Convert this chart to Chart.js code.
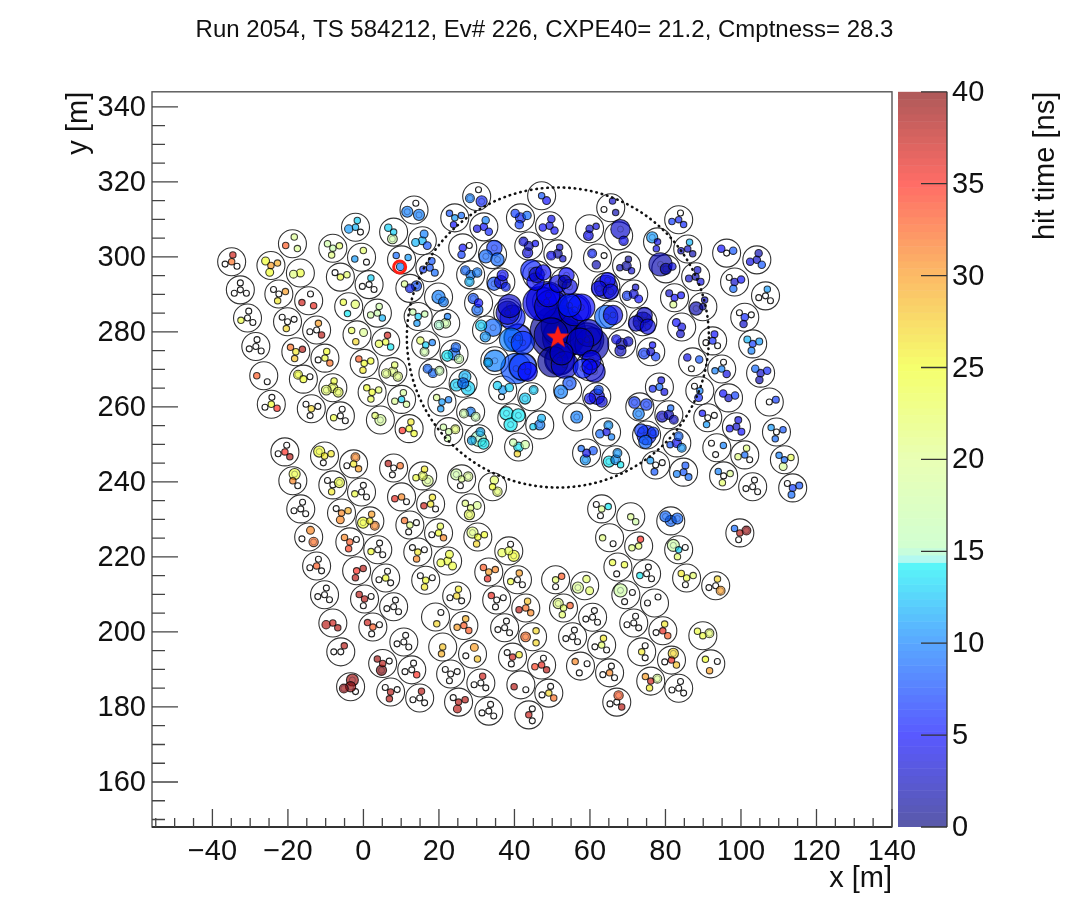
<!DOCTYPE html>
<html>
<head>
<meta charset="utf-8">
<title>Run 2054</title>
<script src="https://cdn.jsdelivr.net/npm/chart.js@4"></script>
<style>
body { margin: 0; background: #fff; }
</style>
</head>
<body>
<canvas id="myChart" width="1089" height="920"></canvas>
<script>
"use strict"
const n = null; // pmt is there but saw no light
const A = -1;   // no pmt drawn for this slot

const chartTitle = 'Run 2054, TS 584212, Ev# 226, CXPE40= 21.2, Cmptness= 28.3';
const xTicks = [-40, -20, 0, 20, 40, 60, 80, 100, 120, 140];
const yTicks = [160, 180, 200, 220, 240, 260, 280, 300, 320, 340];
const timeTicks = [0, 5, 10, 15, 20, 25, 30, 35, 40];

const coreX = [51.5];
const coreY = [278.5];
const fiducialRadius = 40;
const seedX = [9.6];
const seedY = [297.3];

const tankX = [-34.9,-32.6,-30.7,-28.5,-26.4,-24.4,-18.8,-24.5,-16.7,-22.4,
-14.5,-20.1,-12.4,-17.9,-10.2,-15.9,-8.1,-13.8,-6.1,-2.1,
-8.1,-0.5,-6.1,1.5,-3.9,3.7,-1.7,5.9,0.2,7.8,
2.3,10.1,4.5,12.1,8,13.4,15.6,10.1,17.6,12.3,
19.9,14.5,21.8,16.5,24,18.4,26.4,20.8,28.4,22.6,
30.5,30,24.2,31.9,26.3,34.2,28.4,36.4,30.5,32.6,
34.8,36.9,44.6,39.3,46.7,41.1,56.5,54.1,61.8,64.4,
59.1,66.8,47.2,41.6,49.3,59.9,65.5,67.6,43.8,51.5,
62,69.7,77.9,83.5,85.9,96.2,104.2,80.1,88,98.3,
106.5,64.2,71.6,82.4,89.9,101,66.1,74,84.3,92.5,
103.1,68.4,76.1,87.2,94.9,105.2,89.1,96.7,107.5,78.4,
73.2,80.9,91.2,98.8,109.4,75,83,93.6,101,77.4,
84.8,95.4,111.5,103.1,113.7,45.9,53.3,38.2,40.9,42.2,
48.5,56,51.5,52,59.2,59.9,
-20.8,-18.7,-16.6,-14.5,-12.4,-10.3,-8.1,-6,-3.4,-10.3,
-8.1,-5.8,-3.6,-1.8,0.3,2.5,5.1,7.2,-2.6,-0.5,
1.7,3.8,5.9,8,10.7,12.8,14.9,8,10.1,12.3,
14.4,16.5,19.1,21,23.1,25.2,15.7,17.8,19.9,22.3,
24.7,26.6,28.9,31.1,33.2,26,28.4,30.3,34.2,38.5,
33.2,40.8,35.3,43,37.4,44.8,39.5,47.2,41.7,49.1,
43.8,50.9,58.6,53,60.7,55.4,63.1,57.5,65.2,67.1,
63.1,70.8,65.2,72.9,81.4,83.5,99.7,67.4,75,85.6,
93.3,69.5,77.1,71.6,79.3,89.9,73.7,81.6,92,76.1,83.5];

const tankY = [298.7,291.2,283.7,276.1,268.3,260.7,303.5,297.7,295.7,290.1,
288.3,282.7,280.5,274.7,273,267.4,265.1,259.5,257.6,307.9,
302.3,299.9,294.6,292.6,286.7,285,279.2,277.3,271.6,269.4,
263.9,262,256.5,254.2,306.6,312.5,304.3,299.2,297.1,291.6,
289.3,284.1,282.3,276.5,274.1,269,266.3,261.3,258.7,253.4,
251.5,316.1,310.4,308,302.4,300.6,295.2,293.3,287.7,280.5,
272.3,264.5,262.7,257.1,255.2,249.3,257.3,264.5,262.7,253.3,
247.7,245.9,316.3,310.4,308.3,307.5,313.1,305.6,302.9,300.8,
299.7,297.6,304,309.9,302.1,301,299.2,296.8,294.7,293.3,
289.6,292,290.1,289.1,286.7,283.9,284.5,282.7,281.3,277.6,
276.8,276.8,274.7,272,270.1,269,264.3,262.4,261.3,265.3,
260,257.9,257.1,254.7,253.3,252.5,250.4,249.1,247.2,244.5,
242.6,241.6,245.9,238.7,238.4,295.2,293.3,285.1,278.4,270.7,
288,285.9,279.7,272.5,277.9,270.7,
248,240.3,232.8,225.3,217.6,209.9,202.4,194.7,185.4,246.9,
239.2,231.7,224,216.3,208.8,201.3,191.6,184,244.8,237.3,
229.6,221.9,214.4,206.7,197.3,189.9,182.4,243.7,236,228.5,
221.3,213.8,204,196,188.8,181.3,241.6,234.1,226.4,218.9,
209.6,201.7,194.1,186.4,178.9,240.8,233.1,225.3,238.7,221.6,
216,213.9,208.5,206.4,201.1,198.7,193.3,191.2,185.9,183.7,
177.9,213.9,212.3,206.4,203.9,198.7,196.5,190.9,189.1,181.3,
232.8,230.7,225.1,222.9,229.6,221.9,226.4,217.3,215.5,214.4,
212.3,209.9,207.7,202.4,200.3,199,194.7,192.5,191.5,186.9,185];

// direction of the first outer pmt in each tank, degrees
const tankRot = [80,90,80,80,60,85,75,140,70,140,
75,140,75,140,75,140,80,140,75,75,
140,75,140,75,140,75,140,75,140,75,
140,75,140,75,140,75,75,140,75,140,
75,140,75,140,75,140,75,140,75,140,
75,75,140,75,140,75,140,75,140,140,
75,140,75,140,75,140,75,75,75,75,
140,75,75,140,75,140,75,75,140,75,
140,75,140,75,75,140,75,140,75,140,
75,75,75,140,75,140,75,75,140,75,
140,140,75,140,75,140,140,140,140,75,
140,75,140,75,140,140,75,140,75,140,
75,140,140,75,140,140,75,75,75,75,
75,140,75,75,75,75,
75,75,75,75,75,75,75,60,75,140,
140,140,140,140,140,140,140,140,75,75,
75,75,75,75,75,75,75,140,75,140,
140,140,40,140,140,140,75,75,75,75,
75,75,75,75,75,140,140,140,75,75,
140,75,140,75,75,60,140,75,75,75,
60,30,75,140,75,75,75,140,75,75,
140,75,60,75,140,140,140,140,75,140,
75,140,60,75,75,140,60,75,140,140,75];

// hit time in ns for [centre, first, second, third] pmt of each tank
const pmtTime = [
[32,37,n,n],[n,n,n,n],[n,n,24,n],[n,n,n,n],[A,A,33,n],[25,n,n,35],[A,20,33,20],[30,25,25,29],[24,A,21,A],[n,n,26,30],
[A,n,37,36],[n,n,27,n],[n,30,n,38],[26,32,28,38],[24,25,n,32],[25,25,A,n],[23,24,22,23],[27,n,n,n],[n,n,24,n],[12,13,11,n],
[17,18,21,22],[A,22,11,n],[24,n,A,22],[n,13,n,n],[A,24,14,22],[17,18,18,12],[A,23,27,20],[24,37,23,14],[25,33,26,25],[21,22,21,21],
[25,25,23,22],[13,19,20,19],[19,22,A,A],[25,26,35,25],[13,13,18,A],[A,n,10,10],[12,10,12,8],[A,9,10,11],[8,8,7,9],[6,20,A,8],
[10,A,A,10],[13,17,11,17],[18,10,15,A],[13,22,18,10],[9,9,14,17],[9,9,A,17],[9,12,13,13],[11,20,11,10],[10,A,18,17],[18,18,18,22],
[15,12,12,14],[A,n,10,6],[11,8,5,9],[5,10,4,6],[5,A,7,n],[A,7,9,9],[10,9,12,10],[4,5,8,6],[5,8,9,A],[A,13,11,9],
[10,A,12,A],[11,13,n,13],[A,13,13,A],[A,14,14,14],[10,12,13,A],[14,17,27,18],[10,A,A,A],[A,8,10,A],[5,8,5,4],[4,11,9,10],
[4,9,11,8],[11,11,14,14],[8,A,A,5],[6,7,7,9],[4,4,5,5],[3,A,5,4],[A,3,n,2],[A,3,A,5],[3,4,4,5],[2,3,5,3],
[A,6,2,n],[2,1,2,3],[4,11,4,A],[6,n,7,6],[3,12,3,2],[n,5,A,8],[3,2,4,8],[2,2,A,4],[2,3,3,4],[3,n,9,5],
[n,11,n,n],[3,5,4,4],[4,3,7,5],[5,3,20,5],[1,3,2,A],[6,n,3,n],[4,A,9,A],[2,3,3,4],[4,5,3,A],[6,5,n,n],
[7,12,10,11],[2,5,3,4],[3,5,7,7],[A,4,n,8],[10,n,10,4],[3,9,2,6],[10,n,6,A],[3,5,A,7],[n,A,A,7],[9,4,6,4],
[A,7,10,7],[3,9,3,3],[n,5,11,n],[3,4,5,5],[n,11,9,8],[6,7,9,7],[5,9,8,11],[A,n,n,10],[9,21,21,n],[n,11,8,n],
[8,8,10,9],[n,10,22,20],[9,10,19,23],[n,n,n,n],[7,n,9,8],[3,6,5,5],[2,5,4,4],[3,3,A,6],[6,A,10,7],[7,A,8,5],
[3,5,4,3],[3,6,A,5],[1,2,2,2],[2,3,1,3],[1,3,3,2],[5,4,6,3],
[35,n,n,38],[31,24,A,n],[n,n,n,n],[A,31,n,32],[33,n,n,n],[n,n,n,n],[37,A,38,38],[n,38,n,A],[39,39,39,n],[26,25,n,26],
[n,n,26,24],[31,n,31,29],[33,31,34,n],[35,A,38,38],[38,38,n,n],[33,37,n,n],[38,39,40,n],[38,n,38,n],[26,31,n,30],[n,n,24,n],
[26,30,25,31],[n,n,25,n],[25,n,n,n],[n,n,n,n],[n,n,n,n],[n,n,n,35],[n,38,n,n],[n,38,n,32],[31,A,36,n],[21,32,n,n],
[26,n,31,n],[25,n,26,n],[A,n,A,27],[28,A,29,A],[n,n,n,n],[38,n,38,38],[23,26,24,20],[26,26,37,n],[25,23,n,31],[24,24,24,24],
[27,26,n,n],[33,29,30,33],[A,30,n,28],[n,37,n,n],[n,n,n,n],[20,18,n,20],[21,21,23,20],[25,21,27,25],[25,22,A,22],[23,n,23,25],
[30,33,36,31],[n,30,24,n],[n,36,n,n],[32,28,38,31],[n,n,n,n],[A,27,32,27],[37,n,n,26],[36,n,34,38],[A,A,38,n],[27,n,n,32],
[37,n,A,n],[22,33,A,n],[A,22,20,22],[22,21,22,33],[n,n,n,n],[n,n,n,n],[22,26,n,n],[A,31,n,n],[31,n,n,n],[n,33,n,38],
[20,n,n,14],[20,A,A,18],[A,A,21,n],[22,35,21,A],[9,9,A,9],[13,18,22,n],[38,9,n,39],[A,24,n,24],[n,n,14,n],[24,26,n,22],
[n,27,n,30],[A,18,n,n],[A,n,n,A],[n,n,n,n],[36,26,n,33],[24,24,A,22],[26,n,A,n],[36,27,n,28],[A,25,30,n],[37,30,26,20],[n,n,n,n]];

// relative charge: one number for the whole tank or one per pmt
const pmtCharge = [
1,1,1,1,1,1,1,[1,1.3,1.3,1],1.3,1,
1,1,1,1,1,[1.1,1.5,1,1],[1.7,1,1.7,1.7],1,1,[1,1,1.4,1],
1,1,1,1,[1,1,1,1.4],1,[1,1,1,1.3],[1,1,1.2,1],1,[1.6,1,1.6,1.6],
1,1,[2,1,1,1],1,[1,1.2,1.7,1],2,1.3,[1,1,1.3,1],1.1,[1.5,1,1,1.8],
[2.5,1,1,1.7],1,[1.7,1,1.6,1],[1,1.2,1.5,1],[2.2,1.6,2,1.6],1.5,[2,2.2,2.2,2.6],1,[1.6,1,1.5,1.5],[1,1,1,1.5],
[3,1.5,1.5,2],[1,1,1.5,2],1,1.2,1.2,[1,3,2.5,2.5],1.6,[2.4,2,2.5,1.5],[1.4,1.8,2,1],[1,2,1.8,3.5],
[4.5,1,1.5,1],1.4,[1,1.5,2,1],2.5,[1.8,1.3,1,1],[1.7,1.2,1,1.4],2.2,2.5,[3,1.6,2,2],[1.2,1.5,1.4,1],
[1.3,1,1.8,1.4],[1.7,1.5,2,1],[1,1,1,1.3],[1.8,1.4,1.4,1.4],1.2,[1.2,1,1.7,1],1,[1,4,1,1.6],[1.5,1.5,1.8,1],[1.5,1,1.5,1],
[1,1.5,1.4,1],[1.6,1,1,1],[1,2,1,1],1,1,1.2,1.2,[2,5,1,1.2],1.1,1.2,
1,[5,3,3,3],[1.5,1,1.6,1.3],1.1,[1,1,2.5,1],1.2,[4,1,5,1],[4,3,3,3],1.3,1.1,
1.1,[2,1.6,2,1.6],[1.3,1,2,1.4],1.2,[1,1,1,1.2],1.2,[1,1,1.3,1],1.2,1.1,1.1,
2.1,[1.6,1,2,1.5],1,1.1,1,[4,2.5,2.5,2],[1.6,1.5,1,1.5],1,1,1.1,
1.1,1,[1,1,1.3,1],1,1.1,[3,4.5,3.5,3],[2.5,3,3.5,3],[5,5,1,5.5],[6,1,5,5],[6,1,7,4],
[10,5,8,8],[7.5,5,1,6],[15,9,8,10],[7,5,7,6],[8,6,6,8],[3,4,4,4.5],
1,[1,2,1,1],1,[1,1.3,1,1.6],1,1,[1,1,1.4,1],1,[1.8,2.2,1.5,1],[1,2,1,1],
[1,1,1,1.8],[1,1,1.3,1],1,1,1,1,[1,1,1.8,1],1,[1,1.5,1,1],1,
[1,1,2,1.5],1,1,1,1,1,1,1,1,1,
1,1,1,1,1,[1,1,1.3,1],[1.5,1,1,2],1,1,1.3,
1,1,[1,1.3,1,1],1,1,[1,2,1,1.6],[1,1,1.8,1.3],[1,2,1,1],[1,1.4,1,1.6],[1.3,1,1.4,2],
1,1,1,1,1,[1,1,1.7,1],1,1,1,1,
1,1,[1,1.2,2,1.3],[1,1.8,1,1],1,1,1,1,1,[1,1.6,1,1],
1,1,1,1,2,[1,2.2,1,1],[1,1,1,1.5],1,1,1,
[1,1,1,1.5],[1,2.5,1,1],1,1,1,[1,1,1,1.5],1,[1,1.8,1,1],1,[1,1,1,1.5],1];

// palette of the time axis
const paletteTime = [0, 5, 10, 14.4, 14.5, 15.2, 20, 25, 30, 35, 40];
const paletteR = [0, 0, 0, 0, 130, 185, 220, 240, 250, 255, 130];
const paletteG = [0, 0, 120, 245, 245, 255, 255, 255, 150, 30, 0];
const paletteB = [120, 255, 255, 245, 240, 185, 140, 30, 20, 20, 0];

const PMT_OFFSET = 1.85; // m from tank centre
const BLEND = 0.65;

function paletteRgb(t) {
    let k = 0;
    while (k < paletteTime.length - 2 && t > paletteTime[k + 1]) k++;
    let f = (t - paletteTime[k]) / (paletteTime[k + 1] - paletteTime[k]);
    f = Math.max(0, Math.min(1, f));
    return [paletteR, paletteG, paletteB].map(c => Math.round(c[k] + (c[k + 1] - c[k]) * f));
}
function hitColor(t) {
    let c = paletteRgb(t);
    return `rgba(${c[0]},${c[1]},${c[2]},${BLEND})`;
}
function barColor(t) {
    let c = paletteRgb(t).map(v => Math.round(v * BLEND + 255 * (1 - BLEND)));
    return `rgb(${c[0]},${c[1]},${c[2]})`;
}
function chargeOf(i, j) {
    let q = pmtCharge[i];
    if (q === undefined) return 1;
    return Array.isArray(q) ? q[j] : q;
}

let tankPoints = [];
let emptyPoints = [];
let hitPoints = [];
for (let i = 0; i < tankX.length; i++) {
    tankPoints.push({ x: tankX[i], y: tankY[i] });
    let row = pmtTime[i];
    for (let j = 0; j < 4; j++) {
        let t = row[j];
        if (t === A) continue;
        let px = tankX[i];
        let py = tankY[i];
        if (j > 0) {
            let a = (tankRot[i] + (j - 1) * 120) * Math.PI / 180;
            px += PMT_OFFSET * Math.cos(a);
            py += PMT_OFFSET * Math.sin(a);
        }
        if (t === null) emptyPoints.push({ x: px, y: py });
        else hitPoints.push({ x: px, y: py, t: t, q: chargeOf(i, j) });
    }
}
hitPoints.sort((a, b) => b.q - a.q);

function makeStar(r) {
    let c = document.createElement('canvas');
    c.width = c.height = r * 2 + 2;
    let g = c.getContext('2d');
    g.beginPath();
    for (let i = 0; i < 10; i++) {
        let rad = i % 2 ? r * 0.42 : r;
        let a = -Math.PI / 2 + i * Math.PI / 5;
        g.lineTo(r + 1 + rad * Math.cos(a), r + 1 + rad * Math.sin(a));
    }
    g.closePath();
    g.fillStyle = 'rgb(255,30,20)';
    g.fill();
    return c;
}

const sans = '"Liberation Sans", Arial, sans-serif';

const rootFrame = {
    id: 'rootFrame',
    beforeDatasetsDraw(chart) {
        // colour bar
        let ctx = chart.ctx;
        let cs = chart.scales.c;
        ctx.save();
        for (let k = 0; k < 100; k++) {
            let top = cs.getPixelForValue((k + 1) * 0.4);
            let bottom = cs.getPixelForValue(k * 0.4);
            ctx.fillStyle = barColor((k + 0.5) * 0.4);
            ctx.fillRect(898, top, 49, bottom - top + (k > 0 ? 0.5 : 0));
        }
        ctx.restore();
    },
    afterDatasetsDraw(chart) {
        let ctx = chart.ctx;
        let xs = chart.scales.x;
        let ys = chart.scales.y;
        let cs = chart.scales.c;
        let area = chart.chartArea;
        ctx.save();

        // dotted fiducial circle
        ctx.beginPath();
        ctx.ellipse(xs.getPixelForValue(coreX[0]), ys.getPixelForValue(coreY[0]),
            Math.abs(xs.getPixelForValue(fiducialRadius) - xs.getPixelForValue(0)),
            Math.abs(ys.getPixelForValue(fiducialRadius) - ys.getPixelForValue(0)), 0, 0, Math.PI * 2);
        ctx.setLineDash([0.5, 5]);
        ctx.lineCap = 'round';
        ctx.lineWidth = 2.6;
        ctx.strokeStyle = '#111';
        ctx.stroke();
        ctx.setLineDash([]);
        ctx.lineCap = 'butt';

        // frame
        ctx.strokeStyle = '#555';
        ctx.lineWidth = 1.4;
        ctx.strokeRect(area.left, area.top, area.right - area.left, area.bottom - area.top);
        ctx.strokeStyle = '#333';
        ctx.lineWidth = 2;
        ctx.beginPath();
        ctx.moveTo(area.left, area.bottom);
        ctx.lineTo(area.right, area.bottom);
        ctx.stroke();

        // root style inward ticks
        ctx.strokeStyle = '#444';
        ctx.lineWidth = 1.3;
        ctx.beginPath();
        for (let v = -55; v <= 140; v += 5) {
            let p = xs.getPixelForValue(v);
            ctx.moveTo(p, area.bottom);
            ctx.lineTo(p, area.bottom - (v % 20 === 0 ? 18 : 9));
        }
        for (let v = 150; v <= 340; v += 5) {
            let p = ys.getPixelForValue(v);
            ctx.moveTo(area.left, p);
            ctx.lineTo(area.left + (v % 20 === 0 ? 26 : 13), p);
        }
        ctx.stroke();

        // colour bar axis
        ctx.strokeStyle = '#333';
        ctx.beginPath();
        ctx.moveTo(947, area.top);
        ctx.lineTo(947, area.bottom);
        timeTicks.forEach(v => {
            let p = cs.getPixelForValue(v);
            ctx.moveTo(947, p);
            ctx.lineTo(921, p);
        });
        ctx.stroke();

        // colour bar title reads upward, chart.js would turn it the other way on the right
        ctx.translate(1046, area.top);
        ctx.rotate(-Math.PI / 2);
        ctx.fillStyle = '#111';
        ctx.font = '29px ' + sans;
        ctx.textAlign = 'right';
        ctx.textBaseline = 'middle';
        ctx.fillText('hit time [ns]', 0, 0);
        ctx.restore();
    }
};

function fixedTicks(list) {
    return function (scale) {
        scale.ticks = list.map(v => ({ value: v }));
    };
}
function minusLabel(value) {
    return String(value).replace('-', '\u2212');
}

Chart.defaults.font.family = sans;
Chart.defaults.color = '#111';

var ctx = document.getElementById('myChart').getContext('2d');
var myChart = new Chart(ctx, {
    type: 'scatter',
    data: {
        datasets: [{
            label: 'core',
            data: coreX.map((v, i) => ({ x: v, y: coreY[i] })),
            pointStyle: makeStar(12),
            pointRadius: 12,
            order: 0
        }, {
            label: 'seed',
            data: seedX.map((v, i) => ({ x: v, y: seedY[i] })),
            pointRadius: 6,
            pointBackgroundColor: 'rgba(0,0,0,0)',
            pointBorderColor: 'rgb(255,30,20)',
            pointBorderWidth: 3,
            order: 1
        }, {
            label: 'pmt ring',
            data: hitPoints,
            pointRadius: 3,
            pointBackgroundColor: 'rgba(0,0,0,0)',
            pointBorderColor: c => c.raw && c.raw.q > 1.4 ? 'rgba(30,30,60,0.35)' : 'rgba(0,0,0,0)',
            pointBorderWidth: 1,
            order: 2
        }, {
            label: 'hit',
            data: hitPoints,
            pointRadius: c => c.raw ? 3.2 * Math.pow(c.raw.q, 0.8) : 3,
            pointBackgroundColor: c => c.raw ? hitColor(c.raw.t) : '#fff',
            pointBorderColor: 'rgba(0,0,0,0.75)',
            pointBorderWidth: 1.1,
            order: 3
        }, {
            label: 'no hit',
            data: emptyPoints,
            pointRadius: 3,
            pointBackgroundColor: '#fff',
            pointBorderColor: '#222',
            pointBorderWidth: 1.1,
            order: 4
        }, {
            label: 'tank',
            data: tankPoints,
            pointRadius: 14,
            pointBackgroundColor: 'rgba(255,255,255,0)',
            pointBorderColor: '#333',
            pointBorderWidth: 1.1,
            order: 5
        }]
    },
    plugins: [rootFrame],
    options: {
        responsive: false,
        animation: false,
        devicePixelRatio: 1,
        events: [],
        layout: { padding: 0 },
        plugins: {
            legend: { display: false },
            tooltip: { enabled: false },
            title: {
                display: true,
                text: chartTitle,
                color: '#111',
                font: { size: 24, weight: 'normal' },
                padding: { top: 16, bottom: 47 }
            }
        },
        scales: {
            x: {
                type: 'linear',
                min: -56,
                max: 140,
                afterBuildTicks: fixedTicks(xTicks),
                afterFit: s => { s.height = 93; },
                grid: { display: false, drawTicks: false },
                border: { display: false },
                ticks: { autoSkip: false, maxRotation: 0, padding: 8, font: { size: 29 }, color: '#111', callback: minusLabel },
                title: { display: true, text: 'x [m]', align: 'end', font: { size: 29 }, color: '#111', padding: { top: 0, bottom: 24 } }
            },
            y: {
                type: 'linear',
                min: 148,
                max: 344,
                afterBuildTicks: fixedTicks(yTicks),
                afterFit: s => { s.width = 152; },
                grid: { display: false, drawTicks: false },
                border: { display: false },
                ticks: { autoSkip: false, padding: 6, labelOffset: 1, font: { size: 29 }, color: '#111' },
                title: { display: true, text: 'y [m]', align: 'end', font: { size: 29 }, color: '#111', padding: { top: 62, bottom: 0 } }
            },
            c: {
                type: 'linear',
                axis: 'y',
                position: 'right',
                min: 0,
                max: 40,
                afterBuildTicks: fixedTicks(timeTicks),
                afterFit: s => { s.width = 197; },
                grid: { display: false, drawTicks: false },
                border: { display: false },
                ticks: { autoSkip: false, padding: 60, labelOffset: 1, font: { size: 29 }, color: '#111' }
            }
        }
    }
});
</script>
</body>
</html>
